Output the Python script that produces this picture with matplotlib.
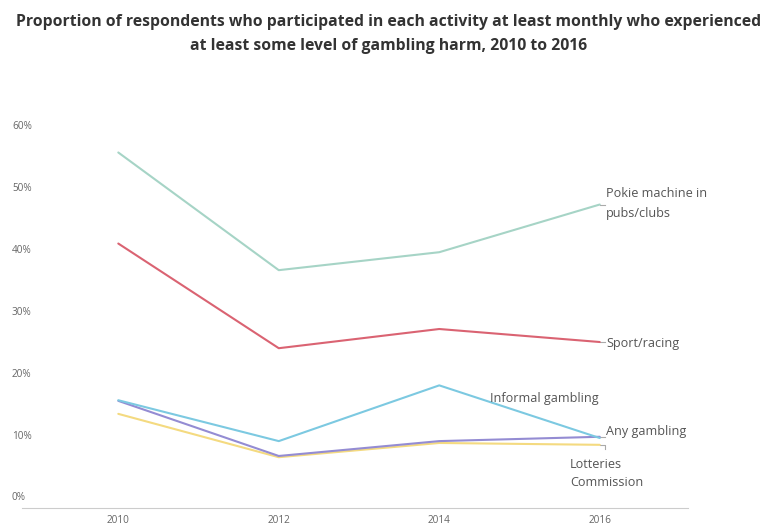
import matplotlib
matplotlib.use("Agg")
import matplotlib.pyplot as plt
from matplotlib.transforms import blended_transform_factory, offset_copy

plt.rcParams['font.family'] = ['Open Sans', 'DejaVu Sans']

years = [2010, 2012, 2014, 2016]
pokies = [57.4, 38.4, 41.3, 49.0]
sport = [42.7, 25.8, 28.9, 26.8]
informal = [17.4, 10.8, 19.8, 11.3]
any_gambling = [17.3, 8.4, 10.8, 11.5]
lotteries = [15.2, 8.2, 10.5, 10.2]
y_ticks = [0, 10, 20, 30, 40, 50, 60]
y_tick_labels = ["0%", "10%", "20%", "30%", "40%", "50%", "60%"]
title = ("Proportion of respondents who participated in each activity at least monthly who experienced\n"
         "at least some level of gambling harm, 2010 to 2016")

W, H = 773, 525
fig = plt.figure(figsize=(W / 100, H / 100), dpi=100)
ax = fig.add_axes([22 / W, 17 / H, 666 / W, 384 / H])
ax.set_xlim(2008.80, 2017.10)
ax.set_ylim(0, 62)

series = [
    (pokies, '#a6d4c6'),
    (sport, '#da6372'),
    (lotteries, '#f4da80'),
    (any_gambling, '#948cd3'),
    (informal, '#7cc9e1'),
]
for vals, col in series:
    ax.plot(years, vals, color=col, lw=1.5, solid_joinstyle='round', solid_capstyle='round', zorder=3)

# leaders at the line ends
for vals in (pokies, sport, any_gambling):
    ax.plot([2016.0, 2016.06], [vals[-1], vals[-1]], color='#aaaaaa', lw=0.8, zorder=2)
ax.plot([2016.0, 2016.06, 2016.06], [lotteries[-1], lotteries[-1], lotteries[-1] - 0.6],
        color='#aaaaaa', lw=0.8, zorder=2)

lab_kw = dict(fontsize=9.1, color='#555555', va='center', ha='left')
ax.text(2016.08, pokies[-1] + 0.2, "Pokie machine in\npubs/clubs", linespacing=1.7, **lab_kw)
ax.text(2016.08, sport[-1] - 0.3, "Sport/racing", **lab_kw)
ax.text(2014.63, 17.6, "Informal gambling", **lab_kw)
ax.text(2016.08, 12.3, "Any gambling", **lab_kw)
ax.text(2015.63, 5.6, "Lotteries\nCommission", linespacing=1.5, **lab_kw)

# axes styling
for s in ['top', 'right', 'left']:
    ax.spines[s].set_visible(False)
ax.spines['bottom'].set_color('#cccccc')
ax.spines['bottom'].set_linewidth(0.8)
ax.set_yticks([])
ax.set_xticks(years)
ax.set_xticklabels([str(y) for y in years])
ax.tick_params(axis='x', length=0, pad=5, labelsize=7.2, labelcolor='#666666')

# y tick labels sit above their (invisible) grid lines
trans = blended_transform_factory(fig.transFigure, ax.transData)
trans = offset_copy(trans, fig=fig, x=0, y=10, units='dots')
for v, lab in zip(y_ticks, y_tick_labels):
    fig.text(12 / W, v, lab, transform=trans, fontsize=7.2, color='#666666', va='center', ha='left')

fig.text(0.503, 1 - 34 / H, title, ha='center', va='center', fontsize=11.3, fontweight='bold',
         color='#333333', linespacing=1.7)

fig.savefig("out.png", dpi=100, facecolor='white')
